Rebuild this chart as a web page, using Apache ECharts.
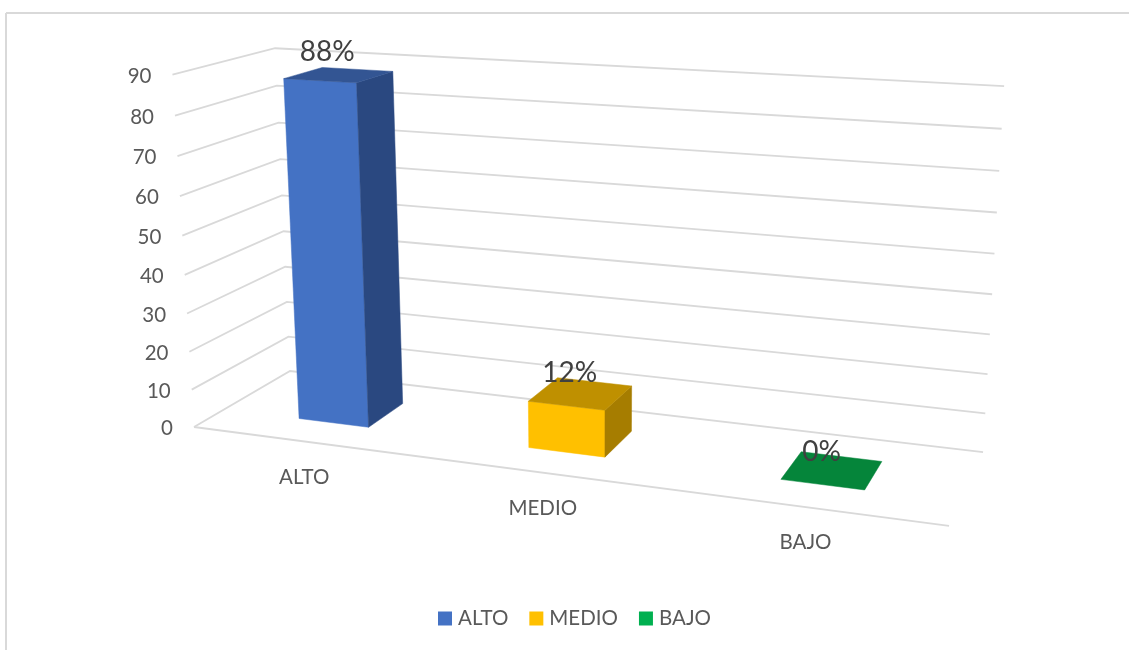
<!DOCTYPE html>
<html>
<head>
<meta charset="utf-8">
<style>html,body{margin:0;padding:0;background:#fff}#c{width:1129px;height:650px}</style>
<script src="https://cdn.jsdelivr.net/npm/echarts@6/dist/echarts.min.js"></script>
</head>
<body>
<div id="c"></div>
<script>
const categories = ['ALTO', 'MEDIO', 'BAJO'];
const values = [88, 12, 0];
const valueLabels = ['88%', '12%', '0%'];
const ticks = [0, 10, 20, 30, 40, 50, 60, 70, 80, 90];
const legendColors = ['#4472C4', '#FFC000', '#00B050'];
const topColors = ['#335593', '#BF9000', '#05853A'];
const sideColors = ['#2A4880', '#A67D00', '#05853A'];

// Perspective camera of the 3D chart box: (u along categories, v depth, w height) -> screen
const P = {a:627.3,b:123.9,p:-30.19,c:194,d:28,e:-20.35,q:-356.2,f:427,g:-0.1346,h:0.0961,r:-0.05024};
function project(u, v, w) {
  const k = P.g*u + P.h*v + P.r*w + 1;
  return [(P.a*u + P.b*v + P.p*w + P.c)/k, (P.d*u + P.e*v + P.q*w + P.f)/k];
}
const G = {left:0, top:0, width:900, height:600};
const halfWidth = 0.052, vFront = 0.30, vBack = 0.70;
const ink = '#595959';
const font = 'Lato';
const textSize = 20.5;

function toUW(api, cat, val) {
  const pt = api.coord([cat, val]);
  return [(pt[0]-G.left)/G.width, 1-(pt[1]-G.top)/G.height];
}
function poly(points, color) {
  return {type:'polygon', shape:{points}, style:{fill:color, stroke:color, lineWidth:0.5}};
}
function txt(s, x, y, size, color, align) {
  return {type:'text', silent:true, style:{text:s, x, y, fill:color, font:size+'px '+font, align:align||'center', verticalAlign:'middle'}};
}
function renderBar(params, api) {
  const i = api.value(0), val = api.value(1);
  const uw = toUW(api, i, val), u = uw[0], w = uw[1];
  const u0 = u-halfWidth, u1 = u+halfWidth;
  const fl0 = project(u0,vFront,0), fr0 = project(u1,vFront,0), br0 = project(u1,vBack,0);
  const fl = project(u0,vFront,w), fr = project(u1,vFront,w), br = project(u1,vBack,w), bl = project(u0,vBack,w);
  const children = [];
  if (val > 0) {
    children.push(poly([fl0,fr0,fr,fl], legendColors[i]));
    children.push(poly([fr0,br0,br,fr], sideColors[i]));
  }
  children.push(poly([fl,fr,br,bl], topColors[i]));
  const c = project(u,0.5,w);
  children.push(txt(valueLabels[i], c[0]-12+2*u, c[1]-24.5+7.5*u, 28, '#404040'));
  const g = project(u,0,0);
  children.push(txt(categories[i], g[0]-1-u, g[1]+36-u, textSize, ink));
  return {type:'group', children};
}
function renderWall(params, api) {
  const val = api.value(0);
  const w = toUW(api, 0, val)[1];
  const a = project(0,0,w), b = project(0,1,w), c = project(1,1,w);
  const lineStyle = {stroke:'#D9D9D9', lineWidth:1.8, fill:null};
  const children = [{type:'polyline', shape:{points:[a,b,c]}, style:lineStyle}];
  if (val === 0) {
    children.push({type:'line', shape:{x1:a[0],y1:a[1],x2:project(1,0,0)[0],y2:project(1,0,0)[1]}, style:lineStyle});
  }
  children.push(txt(String(val), a[0]-21, a[1]+1.5, textSize, ink, 'right'));
  return {type:'group', children};
}
const barSeries = categories.map((name, i) => ({
  name, type:'custom', coordinateSystem:'cartesian2d', z:3, silent:true,
  itemStyle:{color:legendColors[i]},
  renderItem:renderBar, encode:{x:0,y:1},
  data:[[i, values[i]]]
}));
const legendTextWidths = [50, 79, 49];
const option = {
  animation:false,
  backgroundColor:'#fff',
  textStyle:{fontFamily:font},
  grid:Object.assign({containLabel:false}, G),
  xAxis:{type:'category', data:categories, show:false},
  yAxis:{type:'value', min:0, max:90, interval:10, show:false},
  legend:{
    data:categories.map((name,i)=>({name, textStyle:{width:legendTextWidths[i]}})),
    left:433, top:603, icon:'rect', itemWidth:14, itemHeight:14, itemGap:21, selectedMode:false,
    textStyle:{fontFamily:font, fontSize:textSize, color:ink, padding:[0,0,0,1]}
  },
  graphic:[
    {type:'line', silent:true, shape:{x1:6,y1:13,x2:1129,y2:13}, style:{stroke:'#D9D9D9',lineWidth:2}},
    {type:'line', silent:true, shape:{x1:6,y1:13,x2:6,y2:650}, style:{stroke:'#D9D9D9',lineWidth:2}}
  ],
  series:[{
    type:'custom', coordinateSystem:'cartesian2d', z:1, silent:true,
    renderItem:renderWall, encode:{y:0}, data:ticks.map(t=>[t])
  }].concat(barSeries)
};
echarts.init(document.getElementById('c'), null, {renderer:'canvas'}).setOption(option);
</script>
</body>
</html>
